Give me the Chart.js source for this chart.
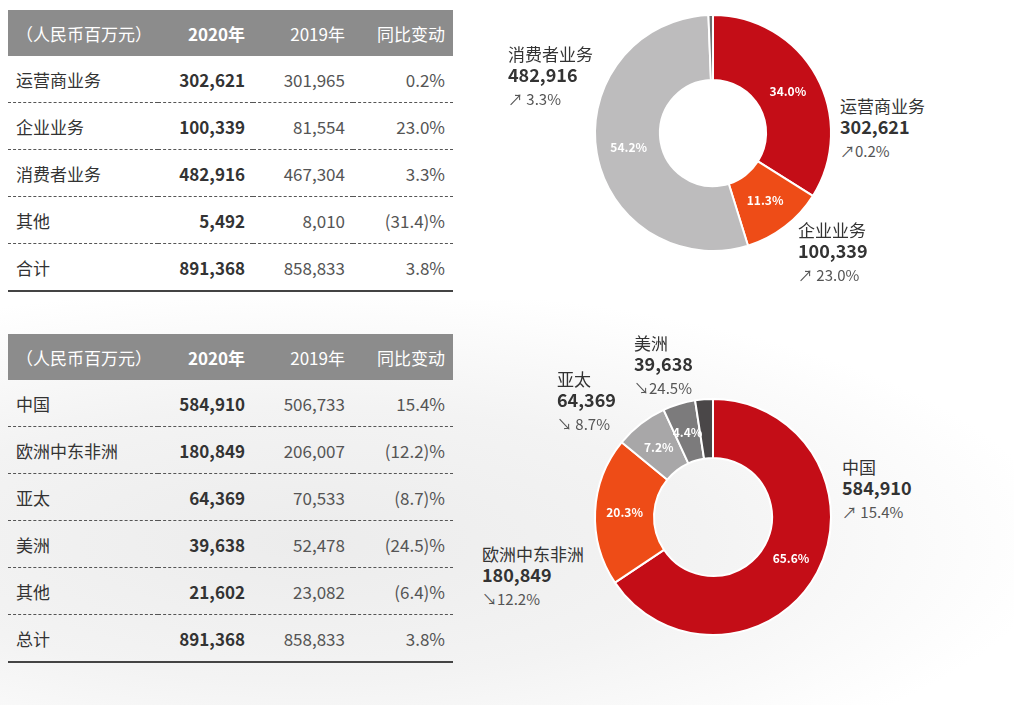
<!DOCTYPE html>
<html><head><meta charset="utf-8">
<script src="https://cdn.jsdelivr.net/npm/chart.js@4"></script>
<style>
body{margin:0;width:1014px;height:705px;background:#fff;font-family:"Noto Sans CJK SC","Noto Sans",sans-serif;position:relative;overflow:hidden;color:#333}
.map{position:absolute;left:0;top:300px;width:1014px;height:405px;background:radial-gradient(ellipse at 30% 60%,#ececec 0%,#f3f3f3 40%,#fff 75%)}
table{position:absolute;left:8px;width:445px;border-collapse:collapse;font-size:17px;table-layout:fixed}
th{background:#8c8c8c;color:#fff;font-weight:normal;height:46px;padding:0 8px;text-align:right}
th:first-child{text-align:left}
th.b{font-weight:bold}
td{height:46px;padding:0 8px;text-align:right;border-bottom:1px dashed #555}
td:first-child{text-align:left}
td.b{font-weight:bold;color:#333}
td.n{color:#555}
tr:last-child td{border-bottom:2px solid #444}
canvas{position:absolute}
.lab{position:absolute;font-size:17px;line-height:20px;color:#333}
.lab b{display:block;font-size:18px;line-height:20px}
.lab span{display:block;margin-top:6px;font-size:15px;line-height:18px;color:#555}
</style></head><body>
<div class="map"></div>
<table id="t1" style="top:10px"></table>
<table id="t2" style="top:334px"></table>
<canvas id="c1" width="250" height="250" style="left:588px;top:8px"></canvas>
<canvas id="c2" width="250" height="250" style="left:588px;top:392px"></canvas>
<div id="labs"></div>
<script>
const headers=["（人民币百万元）","2020年","2019年","同比变动"];
const bizCats=["运营商业务","企业业务","消费者业务","其他","合计"];
const biz2020=[302621,100339,482916,5492,891368];
const biz2019=[301965,81554,467304,8010,858833];
const bizChg=["0.2%","23.0%","3.3%","(31.4)%","3.8%"];
const regCats=["中国","欧洲中东非洲","亚太","美洲","其他","总计"];
const reg2020=[584910,180849,64369,39638,21602,891368];
const reg2019=[506733,206007,70533,52478,23082,858833];
const regChg=["15.4%","(12.2)%","(8.7)%","(24.5)%","(6.4)%","3.8%"];
const bizShare=["34.0%","11.3%","54.2%",""];
const regShare=["65.6%","20.3%","7.2%","4.4%",""];
const fmt=v=>v.toLocaleString("en-US");
function table(id,cats,a,b,c){
 let h='<colgroup><col style="width:150px"><col style="width:95px"><col style="width:100px"><col style="width:100px"></colgroup>';
 h+="<tr>"+headers.map((x,i)=>`<th class="${i==1?'b':''}">${x}</th>`).join("")+"</tr>";
 cats.forEach((k,i)=>{h+=`<tr><td>${k}</td><td class="b">${fmt(a[i])}</td><td class="n">${fmt(b[i])}</td><td class="n">${c[i]}</td></tr>`});
 document.getElementById(id).innerHTML=h;
}
table("t1",bizCats,biz2020,biz2019,bizChg);
table("t2",regCats,reg2020,reg2019,regChg);
const pctPlugin={id:"pct",afterDatasetsDraw(ch){
 const ctx=ch.ctx,meta=ch.getDatasetMeta(0),labs=ch.options.plugins.pct.labels;
 ctx.save();ctx.fillStyle="#fff";ctx.font="bold 12px 'Noto Sans CJK SC',sans-serif";ctx.textAlign="center";ctx.textBaseline="middle";
 meta.data.forEach((a,i)=>{if(!labs[i])return;const p=a.tooltipPosition();ctx.fillText(labs[i],p.x,p.y)});ctx.restore();}};
function donut(id,data,colors,cut,labs){
 new Chart(document.getElementById(id),{type:"doughnut",plugins:[pctPlugin],
 data:{datasets:[{data,backgroundColor:colors,borderColor:"#fff",borderWidth:2}]},
 options:{responsive:false,animation:false,cutout:cut,layout:{padding:6},
 plugins:{legend:{display:false},tooltip:{enabled:false},pct:{labels:labs}}}});
}
donut("c1",biz2020.slice(0,4),["#c40d17","#ee4c17","#bdbcbd","#707070"],"45%",bizShare);
donut("c2",reg2020.slice(0,5),["#c40d17","#ee4c17","#a8a7a8","#7c7b7c","#4a4748"],"50%",regShare);
const labels=[
 [508,44,"消费者业务",biz2020[2],"↗ 3.3%"],
 [840,96,"运营商业务",biz2020[0],"↗0.2%"],
 [798,220,"企业业务",biz2020[1],"↗ 23.0%"],
 [634,333,"美洲",reg2020[3],"↘24.5%"],
 [557,369,"亚太",reg2020[2],"↘ 8.7%"],
 [842,457,"中国",reg2020[0],"↗ 15.4%"],
 [482,544,"欧洲中东非洲",reg2020[1],"↘12.2%"]];
document.getElementById("labs").innerHTML=labels.map(l=>`<div class="lab" style="left:${l[0]}px;top:${l[1]}px">${l[2]}<b>${fmt(l[3])}</b><span>${l[4]}</span></div>`).join("");
</script></body></html>
